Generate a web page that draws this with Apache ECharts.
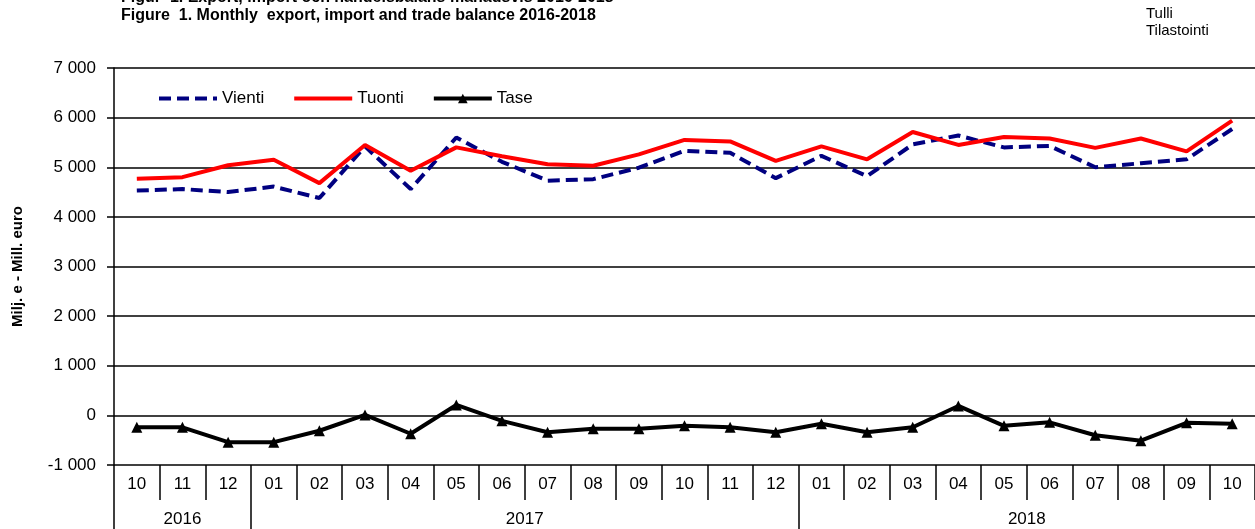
<!DOCTYPE html>
<html>
<head>
<meta charset="utf-8">
<script src="https://cdn.jsdelivr.net/npm/echarts@6/dist/echarts.min.js"></script>
<style>
  html, body { margin: 0; padding: 0; background: #fff; }
  #chart { width: 1255px; height: 529px; }
</style>
</head>
<body>
<div id="chart"></div>
<script>
// months 2016-10 .. 2018-10
const months = ["10", "11", "12", "01", "02", "03", "04", "05", "06", "07", "08", "09",
  "10", "11", "12", "01", "02", "03", "04", "05", "06", "07", "08", "09", "10"];
const years = ["2016", "2017", "2018"];
const yearStart = [0, 3, 15];
const yearCount = [3, 12, 10];

const vienti = [4530, 4560, 4500, 4610, 4380, 5420, 4560, 5600, 5110, 4730, 4760, 4990,
  5330, 5290, 4780, 5230, 4820, 5460, 5640, 5400, 5430, 5000, 5080, 5160, 5770];
const tuonti = [4770, 4800, 5040, 5150, 4680, 5450, 4930, 5400, 5220, 5060, 5030, 5260,
  5550, 5520, 5130, 5420, 5160, 5710, 5450, 5610, 5580, 5390, 5580, 5320, 5940];
const tase = [-240, -240, -540, -540, -310, 10, -370, 210, -110, -340, -270, -270,
  -210, -240, -340, -170, -340, -240, 190, -210, -140, -400, -510, -150, -170];

const font = "Liberation Sans, Arial, sans-serif";
const fmt = (v) => String(v).replace(/\B(?=(\d{3})+(?!\d))/g, " ");

const yearMid = years.map((y, i) => yearStart[i] + yearCount[i] / 2);

let chart = echarts.init(document.getElementById("chart"));
chart.setOption({
  animation: false,
  textStyle: { fontFamily: font },
  graphic: [
    { type: "text", left: 121, top: -10, style: { text: "Figur  1. Export, import och handelsbalans månadsvis 2016-2018", font: "bold 16px " + font, fill: "#000" } },
    { type: "text", left: 121, top: 8, style: { text: "Figure  1. Monthly  export, import and trade balance 2016-2018", font: "bold 16px " + font, fill: "#000" } },
    { type: "text", left: 1146, top: 5, style: { text: "Tulli\nTilastointi", font: "15px " + font, lineHeight: 17, fill: "#000" } },
  ],
  legend: {
    left: 152,
    top: 85,
    itemWidth: 58,
    itemHeight: 12,
    itemGap: 28,
    textStyle: { fontSize: 17, color: "#000", fontFamily: font },
    lineStyle: { width: 4 },
    data: [
      { name: "Vienti", itemStyle: { opacity: 0 } },
      { name: "Tuonti", itemStyle: { opacity: 0 } },
      { name: "Tase" },
    ],
  },
  grid: { left: 114, right: -2, top: 68, bottom: 64 },
  xAxis: [
    {
      type: "category",
      data: months,
      boundaryGap: true,
      axisLine: { show: false, onZero: false },
      axisTick: { show: true, length: 35, lineStyle: { color: "#000", width: 1.5 } },
      axisLabel: { interval: 0, margin: 11, fontSize: 17, color: "#000" },
      splitLine: { show: false },
    },
    {
      type: "value",
      position: "bottom",
      offset: 35,
      min: 0,
      max: months.length,
      axisLine: { show: false, onZero: false },
      splitLine: { show: false },
      axisTick: { show: true, length: 30, customValues: yearStart, lineStyle: { color: "#000", width: 1.5 } },
      axisLabel: {
        margin: 11,
        fontSize: 17,
        color: "#000",
        customValues: yearMid,
        formatter: (v) => years[yearMid.indexOf(v)] || "",
      },
    },
  ],
  yAxis: {
    type: "value",
    min: -1000,
    max: 7000,
    interval: 1000,
    name: "Milj. e - Mill. euro",
    nameLocation: "middle",
    nameGap: 89,
    nameTextStyle: { fontSize: 15, fontWeight: "bold", color: "#000" },
    axisLine: { show: true, lineStyle: { color: "#000", width: 1.5 } },
    axisTick: { show: true, length: 7, lineStyle: { color: "#000", width: 1.5 } },
    axisLabel: { margin: 18, fontSize: 17, color: "#000", formatter: (v) => fmt(v) },
    splitLine: { lineStyle: { color: "#000", width: 1.5 } },
  },
  series: [
    {
      name: "Vienti",
      type: "line",
      data: vienti,
      symbol: "none",
      lineStyle: { color: "#000080", width: 4, type: [12, 6] },
      itemStyle: { color: "#000080" },
    },
    {
      name: "Tuonti",
      type: "line",
      data: tuonti,
      symbol: "none",
      lineStyle: { color: "#ff0000", width: 4 },
      itemStyle: { color: "#ff0000" },
    },
    {
      name: "Tase",
      type: "line",
      data: tase,
      symbol: "triangle",
      symbolSize: 11,
      lineStyle: { color: "#000", width: 4 },
      itemStyle: { color: "#000" },
    },
  ],
});
</script>
</body>
</html>
